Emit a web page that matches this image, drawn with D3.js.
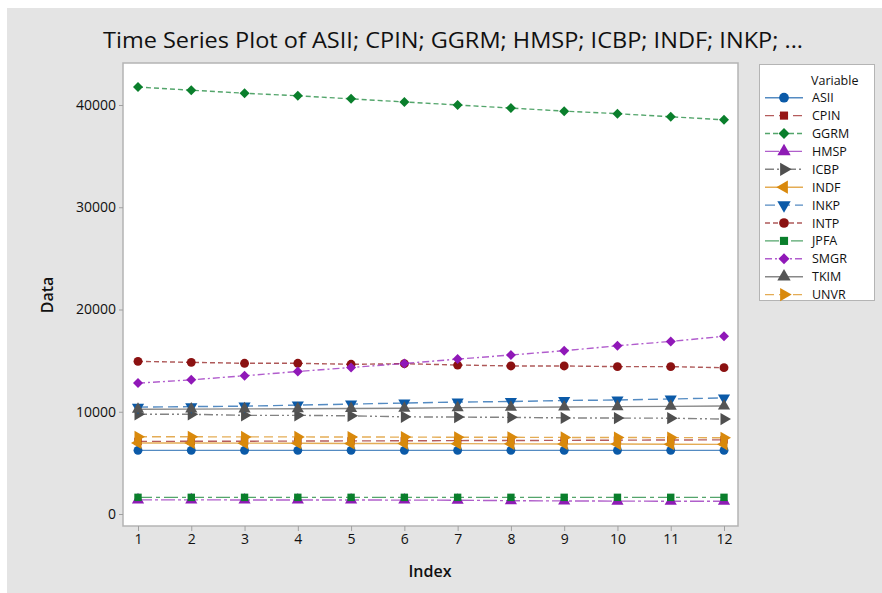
<!DOCTYPE html>
<html><head><meta charset="utf-8">
<script src="https://cdn.jsdelivr.net/npm/d3@7"></script>
<style>
body{margin:0;background:#fff;}
text{font-family:"Open Sans","Noto Sans",sans-serif;fill:#111;}
</style></head>
<body><svg id="c" width="882" height="593"></svg>
<script>
const indexVals = [1,2,3,4,5,6,7,8,9,10,11,12];
const seriesNames = ["ASII","CPIN","GGRM","HMSP","ICBP","INDF","INKP","INTP","JPFA","SMGR","TKIM","UNVR"];
const ASII = [6225,6225,6225,6225,6225,6225,6225,6225,6225,6225,6225,6225];
const CPIN = [7100,7110,7120,7130,7150,7160,7180,7190,7200,7220,7240,7250];
const GGRM = [41750,41450,41150,40900,40600,40300,40000,39700,39400,39150,38850,38550];
const HMSP = [1380,1380,1375,1370,1365,1360,1350,1300,1280,1260,1250,1240];
const ICBP = [9750,9750,9650,9650,9600,9500,9480,9450,9400,9380,9370,9280];
const INDF = [6950,6940,6930,6920,6900,6890,6880,6860,6850,6840,6820,6810];
const INKP = [10450,10500,10550,10650,10750,10850,10950,11000,11100,11150,11250,11350];
const INTP = [14930,14830,14740,14740,14640,14700,14570,14480,14480,14410,14410,14310];
const JPFA = [1630,1630,1630,1630,1630,1630,1630,1630,1630,1630,1630,1630];
const SMGR = [12800,13120,13520,13940,14330,14720,15150,15550,15970,16450,16880,17380];
const TKIM = [10240,10260,10280,10300,10320,10340,10400,10430,10460,10500,10530,10560];
const UNVR = [7550,7550,7540,7540,7530,7520,7510,7500,7490,7480,7470,7460];
const yTicks = [0,10000,20000,30000,40000];

const dataMap = {ASII,CPIN,GGRM,HMSP,ICBP,INDF,INKP,INTP,JPFA,SMGR,TKIM,UNVR};
const styles = {
  ASII:{c:"#0b5aa8", sym:"circle", dash:null},
  CPIN:{c:"#961717", sym:"square", dash:"9,5"},
  GGRM:{c:"#0a7f2c", sym:"diamond", dash:"5,3"},
  HMSP:{c:"#8e1bb5", sym:"up", dash:"14,3,3,3"},
  ICBP:{c:"#4f4f4f", sym:"right", dash:"9,3,2,3,2,3"},
  INDF:{c:"#d9890c", sym:"left", dash:null},
  INKP:{c:"#0b5aa8", sym:"down", dash:"10,5"},
  INTP:{c:"#8b1111", sym:"circle", dash:"5,3"},
  JPFA:{c:"#0a7f2c", sym:"square", dash:"14,4,4,4"},
  SMGR:{c:"#9018b8", sym:"diamond", dash:"7,3,2,3"},
  TKIM:{c:"#555555", sym:"up", dash:null},
  UNVR:{c:"#d9890c", sym:"right", dash:"9,5"}
};

const svg = d3.select("#c");
svg.append("rect").attr("x",7).attr("y",8).attr("width",875).attr("height",585).attr("fill","#e4e4e4");

const L=123, R=738, T=63, B=526;
const step = (724-138)/11;
const x = d3.scaleLinear().domain([1 - (138-L)/step, 12 + (R-724)/step]).range([L,R]);
const y = d3.scaleLinear().domain([0,40000]).range([514,105]);

svg.append("rect").attr("x",L).attr("y",T).attr("width",R-L).attr("height",B-T)
  .attr("fill","#fff").attr("stroke","#b4b4b4").attr("stroke-width",1.5);

const yAxis = d3.axisLeft(y).tickValues(yTicks).tickSize(4).tickPadding(3).tickFormat(d3.format("d"));
const gy = svg.append("g").attr("transform",`translate(${L},0)`).call(yAxis);
const xAxis = d3.axisBottom(x).tickValues(indexVals).tickSize(5).tickPadding(3).tickFormat(d3.format("d"));
const gx = svg.append("g").attr("transform",`translate(0,${B})`).call(xAxis);
[gy,gx].forEach(g=>{
  g.select(".domain").remove();
  g.selectAll(".tick line").attr("stroke","#a0a0a0");
  g.selectAll(".tick text").attr("font-size",14).attr("fill","#111").attr("font-weight",500);
});

function symPath(kind, size){
  let t;
  switch(kind){
    case "circle": t=d3.symbolCircle; break;
    case "square": case "diamond": t=d3.symbolSquare; break;
    default: t=d3.symbolTriangle;
  }
  return d3.symbol().type(t).size(size)();
}
function rot(kind){return kind==="right"?90:kind==="down"?180:kind==="left"?270:kind==="diamond"?45:0;}
function sz(kind){return kind==="circle"?62:kind==="square"?55:kind==="diamond"?50:64;}

const line = d3.line().x((d,i)=>x(indexVals[i])).y(d=>y(d));
const plot = svg.append("g");
seriesNames.forEach(name=>{
  const s = styles[name];
  const vals = dataMap[name];
  plot.append("path").attr("d",line(vals)).attr("fill","none")
    .attr("stroke",s.c).attr("stroke-opacity",0.7).attr("stroke-width",1.4)
    .attr("stroke-dasharray",s.dash);
  plot.selectAll(null).data(vals).enter().append("path")
    .attr("d",symPath(s.sym,sz(s.sym)))
    .attr("transform",(d,i)=>`translate(${x(indexVals[i])},${y(d)}) rotate(${rot(s.sym)})`)
    .attr("fill",s.c);
});

// Title
svg.append("text").attr("x",453).attr("y",48).attr("text-anchor","middle")
  .attr("font-size",22).attr("font-weight",500).attr("textLength",700).attr("lengthAdjust","spacingAndGlyphs")
  .text("Time Series Plot of ASII; CPIN; GGRM; HMSP; ICBP; INDF; INKP; ...");
// axis titles
svg.append("text").attr("x",430).attr("y",577).attr("text-anchor","middle").attr("font-size",16).attr("font-weight",600).text("Index");
svg.append("text").attr("transform","translate(53,295) rotate(-90)").attr("text-anchor","middle").attr("font-size",16).attr("font-weight",600).text("Data");

// Legend
const lg = svg.append("g");
lg.append("rect").attr("x",759.5).attr("y",64.5).attr("width",115).attr("height",236)
  .attr("fill","#fff").attr("stroke","#b4b4b4");
lg.append("text").attr("x",811).attr("y",85).attr("font-size",12.5).attr("font-weight",500).text("Variable");
seriesNames.forEach((name,i)=>{
  const s = styles[name];
  const yy = 97.7 + i*17.9;
  lg.append("line").attr("x1",765).attr("x2",803).attr("y1",yy).attr("y2",yy)
    .attr("stroke",s.c).attr("stroke-opacity",0.7).attr("stroke-width",1.4).attr("stroke-dasharray",s.dash);
  lg.append("path").attr("d",symPath(s.sym,sz(s.sym)*1.2))
    .attr("transform",`translate(784,${yy}) rotate(${rot(s.sym)})`).attr("fill",s.c);
  lg.append("text").attr("x",812).attr("y",yy+4.5).attr("font-size",12.5).attr("font-weight",500).text(name);
});
</script></body></html>
